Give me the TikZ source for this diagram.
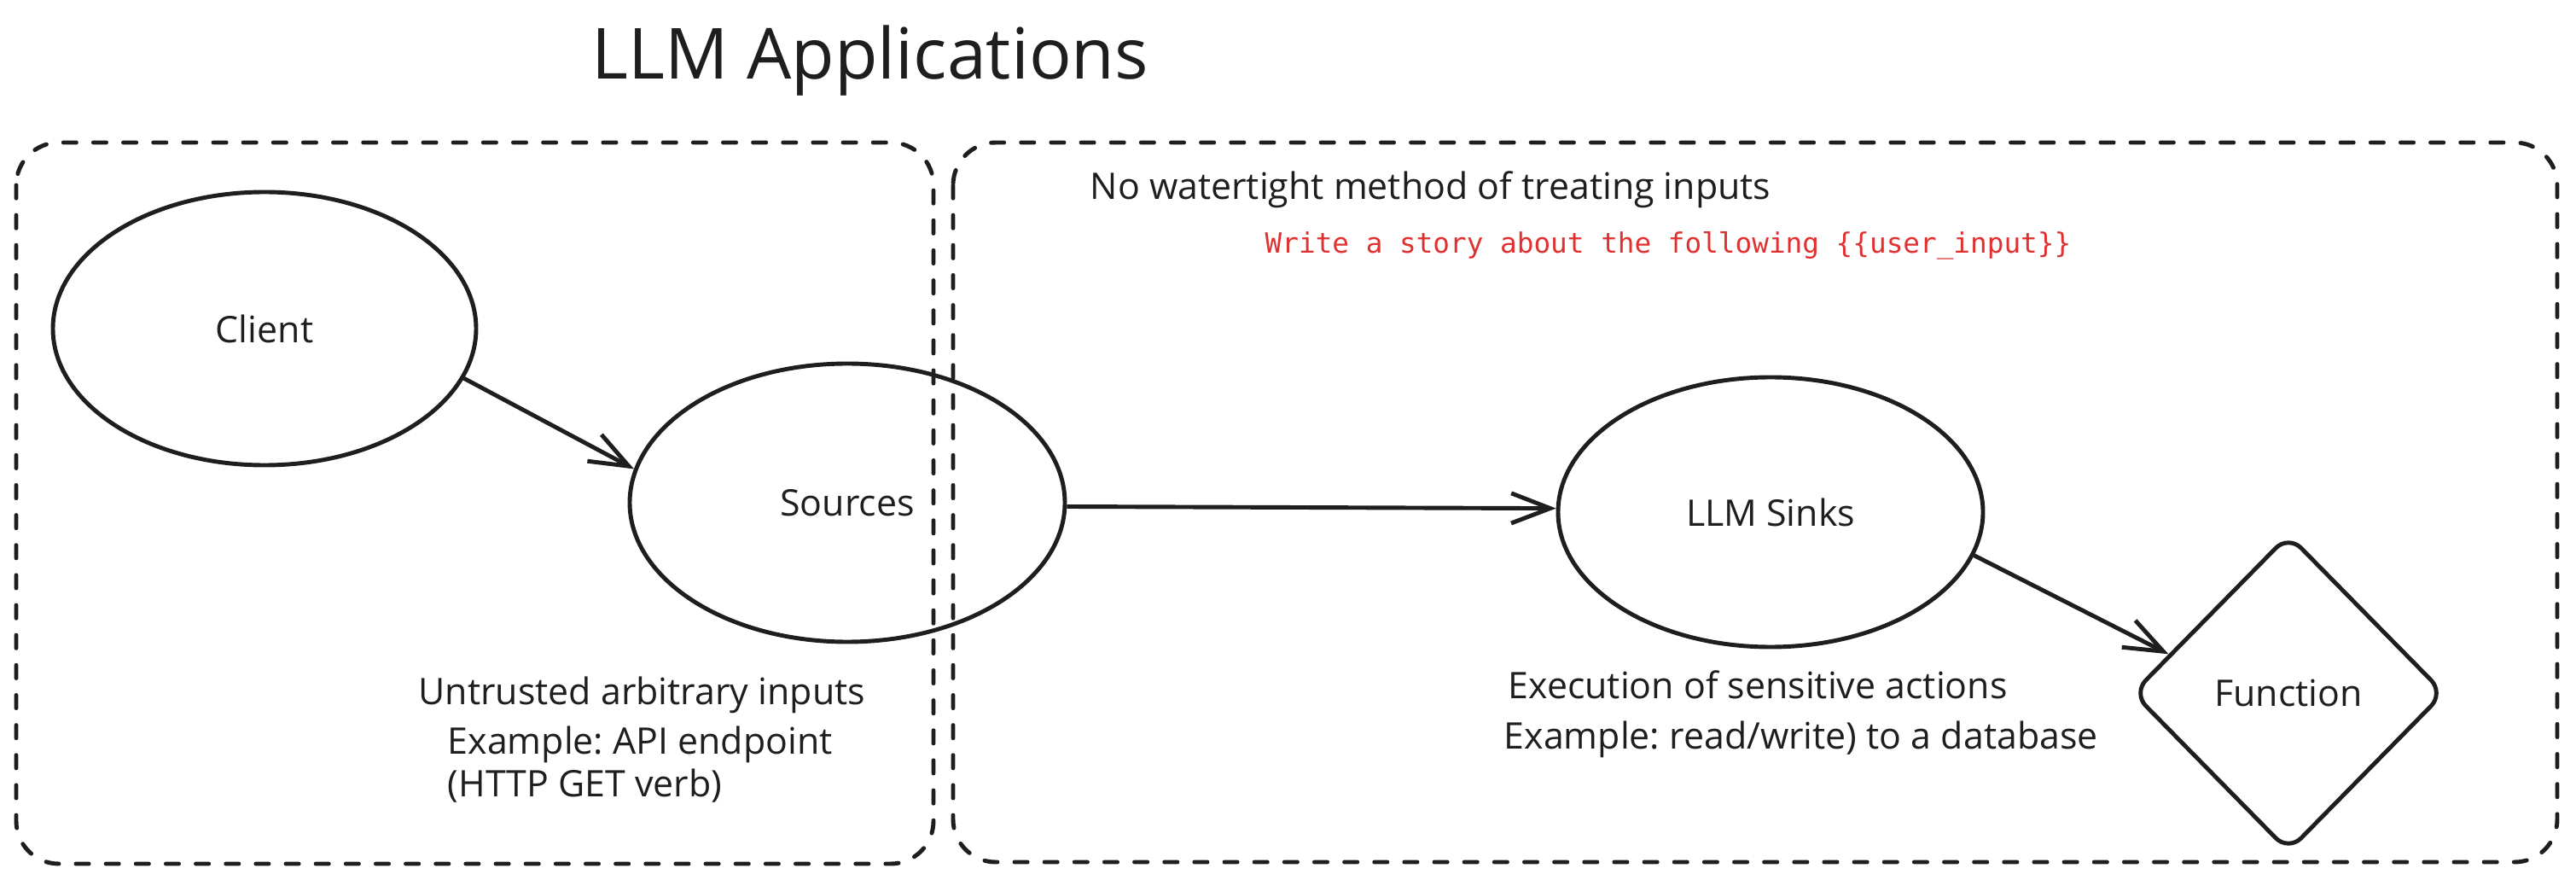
\documentclass[tikz,border=0pt]{standalone}
\usepackage{fontspec}
\setmainfont{Open Sans}
\setmonofont{DejaVu Sans Mono}
\usetikzlibrary{shapes.geometric,arrows.meta}
\definecolor{ink}{HTML}{1E1E1E}
\definecolor{redink}{HTML}{E03131}
\frenchspacing
\begin{document}
\begin{tikzpicture}[x=1cm,y=1cm,
  bubble/.style={ellipse, draw=ink, line width=1.4pt, inner sep=0pt, font=\fontsize{12.2}{14}\selectfont, text=ink},
  groupbox/.style={draw=ink, line width=1.4pt, line cap=round, dash pattern=on 4.3pt off 5.7pt, rounded corners=0.5cm},
  flow/.style={draw=ink, line width=1.4pt, -{Straight Barb[length=13pt,width=10pt,line width=1.4pt]}},
  note/.style={font=\fontsize{12.2}{14}\selectfont, text=ink, inner sep=0pt, anchor=base west},
]
\useasboundingbox (0,0) rectangle (30.19,-10.31);
\draw[groupbox] (0.19,-1.67) rectangle (10.94,-10.12);
\draw[groupbox] (11.17,-1.67) rectangle (29.97,-10.10);
\node[note, font=\fontsize{23.5}{28}\selectfont] (title) at (6.93,-0.93) {LLM Applications};
\node[bubble, minimum width=4.96cm, minimum height=3.2cm] (client) at (3.10,-3.85) {Client};
\node[bubble, minimum width=5.10cm, minimum height=3.26cm] (sources) at (9.93,-5.89) {Sources};
\node[bubble, minimum width=4.98cm, minimum height=3.16cm] (sinks) at (20.75,-6.00) {LLM Sinks};
\node[diamond, draw=ink, line width=1.4pt, rounded corners=6pt, inner sep=0pt, minimum width=3.66cm, minimum height=3.72cm, font=\fontsize{12.2}{14}\selectfont, text=ink] (func) at (26.82,-8.12) {Function};
\node[note] (nowater) at (12.77,-2.34) {No watertight method of treating inputs};
\node[note, font=\ttfamily\fontsize{9.3}{11}\selectfont, text=redink] (prompt) at (14.82,-2.97) {Write a story about the following \{\{user\_input\}\}};
\node[note] (untrusted) at (4.90,-8.25) {Untrusted arbitrary inputs};
\node[note] (ex1) at (5.24,-8.83) {Example: API endpoint};
\node[note] (http) at (5.24,-9.33) {(HTTP GET verb)};
\node[note] (exec) at (17.67,-8.18) {Execution of sensitive actions};
\node[note] (ex2) at (17.62,-8.77) {Example: read/write) to a database};
\draw[flow] (client.-14) -- (sources.171);
\draw[flow] (sources.-1) -- (sinks.179);
\draw[flow] (sinks.-12) -- (func.162);
\end{tikzpicture}
\end{document}
